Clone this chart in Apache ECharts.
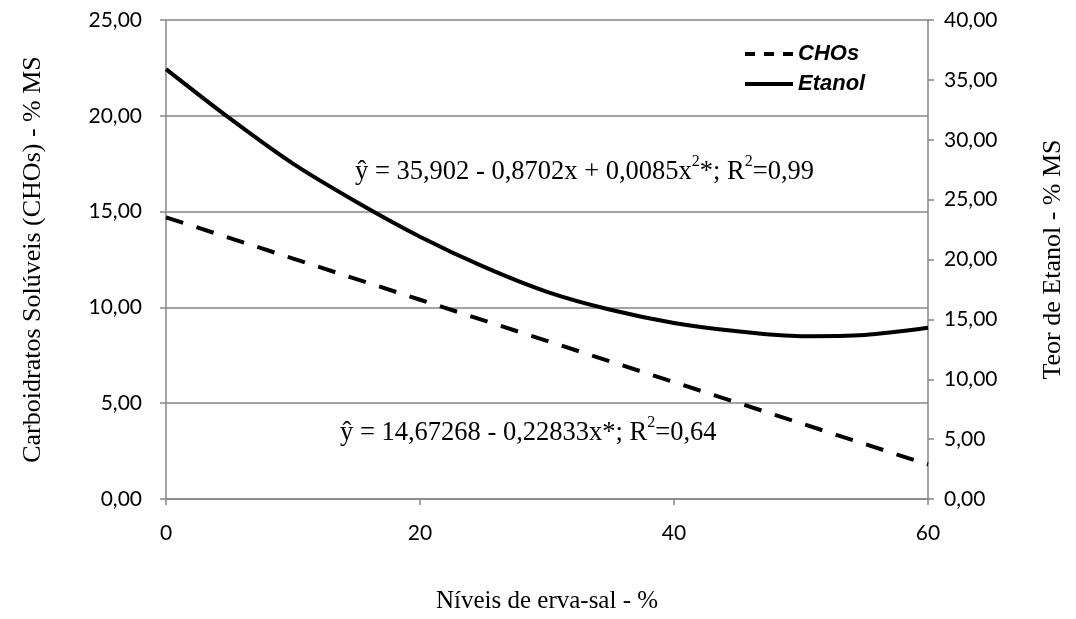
<!DOCTYPE html>
<html>
<head>
<meta charset="utf-8">
<script src="https://cdn.jsdelivr.net/npm/echarts@6/dist/echarts.min.js"></script>
<style>
  html, body { margin: 0; padding: 0; background: #fff; }
  #chart { width: 1076px; height: 619px; }
</style>
</head>
<body>
<div id="chart"></div>
<script>
// níveis de erva-sal (%)
const choX = [0, 20, 40, 60];
const choY = [14.7, 10.4, 6.1, 1.8];

const etanolX = [0, 5, 10, 15, 20, 25, 30, 35, 40, 45, 50, 55, 60];
const etanolY = [35.9, 31.8, 28.0, 24.8, 21.9, 19.4, 17.3, 15.8, 14.7, 14.0, 13.6, 13.7, 14.3];

const chart = echarts.init(document.getElementById('chart'));

const gray = '#868686';
const tickFont = { fontFamily: 'Lato', fontSize: 21, color: '#000' };
const serif = 'Liberation Serif';
const fmt = v => v.toFixed(2).replace('.', ',');

const eqRich = {
  n: { fontFamily: serif, fontSize: 26.5, color: '#000', verticalAlign: 'bottom', lineHeight: 32 },
  s: { fontFamily: serif, fontSize: 16, color: '#000', verticalAlign: 'top', lineHeight: 32, padding: [0, 0, 12, 0] }
};

chart.setOption({
  animation: false,
  grid: { left: 166, right: 148, top: 20, bottom: 119 },
  legend: {
    orient: 'vertical',
    left: 740,
    top: 38,
    itemWidth: 48,
    itemHeight: 4,
    itemGap: 8,
    textStyle: { fontFamily: 'Liberation Sans', fontSize: 22, fontWeight: 'bold', fontStyle: 'italic', color: '#000' },
    data: [
      { name: 'CHOs', icon: 'path://M0,0h10v4h-10zM19,0h10v4h-10zM38,0h10v4h-10z' },
      { name: 'Etanol', icon: 'path://M0,0h48v4h-48z' }
    ],
    itemStyle: { color: '#000' }
  },
  xAxis: {
    type: 'value',
    min: 0, max: 60, interval: 20,
    name: 'Níveis de erva-sal - %',
    nameLocation: 'middle',
    nameGap: 90,
    nameTextStyle: { fontFamily: serif, fontSize: 25, color: '#000' },
    axisLine: { lineStyle: { color: gray, width: 1.5 } },
    axisTick: { show: true, length: 6, lineStyle: { color: gray, width: 1.5 } },
    axisLabel: Object.assign({ margin: 24 }, tickFont),
    splitLine: { show: false }
  },
  yAxis: [
    {
      type: 'value', min: 0, max: 25, interval: 5,
      position: 'left',
      name: 'Carboidratos Solúveis (CHOs) - % MS',
      nameLocation: 'middle',
      nameRotate: 90,
      nameGap: 120,
      nameTextStyle: { fontFamily: serif, fontSize: 26, color: '#000' },
      axisLine: { show: true, lineStyle: { color: gray, width: 1.5 } },
      axisTick: { show: true, length: 6, lineStyle: { color: gray, width: 1.5 } },
      axisLabel: Object.assign({ margin: 24, formatter: fmt }, tickFont),
      splitLine: { show: true, lineStyle: { color: gray, width: 1.5 } }
    },
    {
      type: 'value', min: 0, max: 40, interval: 5,
      position: 'right',
      name: 'Teor de Etanol - % MS',
      nameLocation: 'middle',
      nameRotate: 90,
      nameGap: 112,
      nameTextStyle: { fontFamily: serif, fontSize: 26, color: '#000' },
      axisLine: { show: true, lineStyle: { color: gray, width: 1.5 } },
      axisTick: { show: true, length: 6, lineStyle: { color: gray, width: 1.5 } },
      axisLabel: Object.assign({ margin: 16, formatter: fmt }, tickFont),
      splitLine: { show: false }
    }
  ],
  series: [
    {
      name: 'CHOs',
      type: 'line',
      yAxisIndex: 0,
      symbol: 'none',
      data: choX.map((x, i) => [x, choY[i]]),
      lineStyle: { color: '#000', width: 4, type: [18, 14] },
      itemStyle: { color: '#000' }
    },
    {
      name: 'Etanol',
      type: 'line',
      yAxisIndex: 1,
      symbol: 'none',
      smooth: 0.3,
      data: etanolX.map((x, i) => [x, etanolY[i]]),
      lineStyle: { color: '#000', width: 4 },
      itemStyle: { color: '#000' }
    }
  ],
  graphic: [
    {
      type: 'text',
      left: 355, top: 154,
      style: {
        text: '{n|ŷ = 35,902 - 0,8702x + 0,0085x}{s|2}{n|*; R}{s|2}{n|=0,99}',
        rich: eqRich
      }
    },
    {
      type: 'text',
      left: 340, top: 415,
      style: {
        text: '{n|ŷ = 14,67268 - 0,22833x*; R}{s|2}{n|=0,64}',
        rich: eqRich
      }
    }
  ]
});
</script>
</body>
</html>
